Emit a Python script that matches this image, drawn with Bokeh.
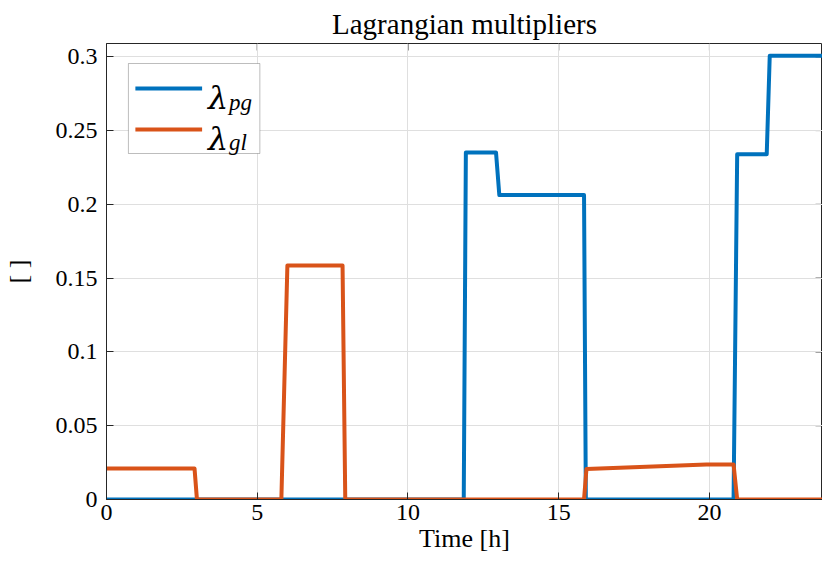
from bokeh.plotting import figure
from bokeh.models import FixedTicker, Range1d, BoxAnnotation
from bokeh.core.properties import value
from bokeh.embed import file_html
from bokeh.resources import INLINE

# ---- data ----
t_pg = [0, 11.85, 11.92, 12.92, 13.03, 15.84, 15.90, 20.80, 20.92, 21.90, 22.00, 23.75]
v_pg = [0, 0, 0.2352, 0.2352, 0.2063, 0.2063, 0, 0, 0.2340, 0.2340, 0.3007, 0.3007]

t_gl = [0, 2.92, 3.00, 5.80, 6.00, 7.83, 7.92, 15.84, 15.92, 19.90, 20.80, 20.92, 23.75]
v_gl = [0.021, 0.021, 0, 0, 0.1585, 0.1585, 0, 0, 0.0206, 0.0237, 0.0237, 0, 0]

x_ticks = [0, 5, 10, 15, 20]
y_ticks = [0, 0.05, 0.1, 0.15, 0.2, 0.25, 0.3]
y_tick_labels = ["0", "0.05", "0.1", "0.15", "0.2", "0.25", "0.3"]

series_names = ["pg", "gl"]
series_colors = ["#0072BD", "#D95319"]

X_MAX = 23.75
Y_MAX = 0.309

# ---- layout ----
W, H = 822, 560
BL, BR, BT, BB = 103, 0, 43, 61
FW, FH = W - BL - BR, H - BT - BB
FONT = "Liberation Serif"
AX = "#262626"
TICK = 7

p = figure(width=W, height=H, output_backend="svg", toolbar_location=None,
           x_range=Range1d(0, X_MAX), y_range=Range1d(0, Y_MAX),
           min_border_left=BL, min_border_right=BR, min_border_top=BT,
           min_border_bottom=BB, x_axis_label="Time [h]", y_axis_label="[ ]",
           title="Lagrangian multipliers")
p.title.align = "center"
p.title.text_font = FONT
p.title.text_font_size = "29px"
p.title.text_font_style = "normal"
p.title.text_color = "#000000"
p.title.standoff = 7
p.outline_line_color = AX
p.outline_line_width = 1
p.background_fill_color = "white"
p.border_fill_color = "white"

for ax in (p.xaxis[0], p.yaxis[0]):
    ax.axis_line_color = AX
    ax.major_tick_line_color = AX
    ax.minor_tick_line_color = None
    ax.major_tick_in = TICK
    ax.major_tick_out = 0
    ax.major_label_text_font = FONT
    ax.major_label_text_color = "#000000"
    ax.major_label_text_font_size = "24px"
    ax.axis_label_text_font = FONT
    ax.axis_label_text_font_style = "normal"
    ax.axis_label_text_color = "#000000"
    ax.axis_label_text_font_size = "26px"

p.xaxis.ticker = FixedTicker(ticks=x_ticks)
p.yaxis.ticker = FixedTicker(ticks=y_ticks)
p.yaxis.major_label_overrides = {t: s for t, s in zip(y_ticks, y_tick_labels)}
p.xaxis.major_label_standoff = 5
p.xaxis.axis_label_standoff = 1
p.yaxis.major_label_standoff = 9
p.yaxis.axis_label_standoff = 20

p.xgrid.ticker = FixedTicker(ticks=x_ticks)
p.ygrid.ticker = FixedTicker(ticks=y_ticks)
p.grid.grid_line_color = "#dfdfdf"
p.grid.grid_line_width = 1

# inward ticks on the top and right edges of the box
dy = TICK / FH * Y_MAX
dx = TICK / FW * X_MAX
p.segment(x0=x_ticks, y0=[Y_MAX] * len(x_ticks), x1=x_ticks, y1=[Y_MAX - dy] * len(x_ticks),
          line_color=AX, line_width=1, level="underlay")
p.segment(x0=[X_MAX] * len(y_ticks), y0=y_ticks, x1=[X_MAX - dx] * len(y_ticks), y1=y_ticks,
          line_color=AX, line_width=1, level="underlay")

p.line(t_pg, v_pg, line_color=series_colors[0], line_width=4, line_join="round")
p.line(t_gl, v_gl, line_color=series_colors[1], line_width=4, line_join="round")

# ---- custom legend (positions in canvas pixels, mapped to the frame) ----
def px2x(px):
    return (px - BL) / FW * X_MAX

def py2y(py):
    return Y_MAX * (1 - (py - BT) / FH)

p.add_layout(BoxAnnotation(left=px2x(125), right=px2x(257), top=py2y(63), bottom=py2y(153),
                           fill_color="white", fill_alpha=1.0, line_color=AX, line_width=1,
                           level="annotation"))
rows_y = [88, 129]
lam_base = [97, 138]
sub_base = [102, 142]
for i, name in enumerate(series_names):
    p.line([px2x(132), px2x(199)], [py2y(rows_y[i])] * 2, line_color=series_colors[i],
           line_width=4, level="overlay")
    p.text([px2x(205)], [py2y(lam_base[i])], text=["\u03bb"], text_font=value("DejaVu Serif"),
           text_font_style="italic", text_font_size="32px", text_baseline="alphabetic",
           text_align="left", text_color="#000000", level="overlay")
    p.text([px2x(226)], [py2y(sub_base[i])], text=[name], text_font=value(FONT),
           text_font_style="italic", text_font_size="23px", text_baseline="alphabetic",
           text_align="left", text_color="#000000", level="overlay")

open("out.html", "w").write(file_html(p, INLINE))
